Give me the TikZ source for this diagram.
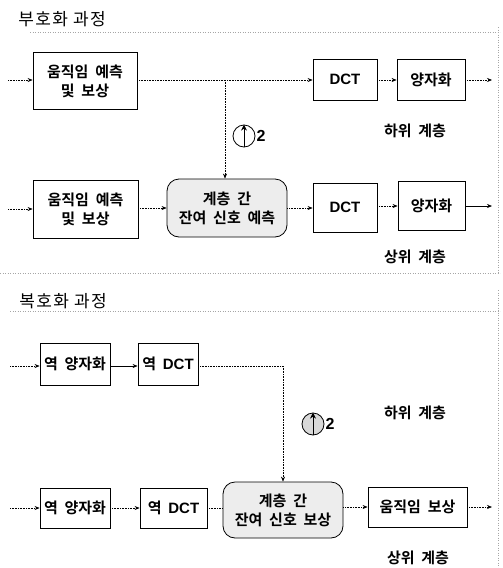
\documentclass[tikz,border=0pt]{standalone}
\usepackage{fontspec}
\newfontfamily\kr{Noto Sans CJK KR}
\newfontfamily\krb{Noto Sans CJK KR Bold}
\newfontfamily\lat{Liberation Sans}
\newcommand\dct{{\lat\bfseries DCT}}
\newcommand\widesp{\spaceskip=0.45em\relax}
\usetikzlibrary{arrows.meta}
\begin{document}
\begin{tikzpicture}[x=1pt,y=-1pt,
  blk/.style={draw, line width=0.8pt, inner sep=0pt, align=center, font=\krb\fontsize{15}{19}\selectfont\widesp},
  rblk/.style={blk, rounded corners=12pt, fill=gray!14},
  lbl/.style={font=\krb\fontsize{15}{17}\selectfont\widesp},
  ttl/.style={font=\kr\fontsize{17}{19}\selectfont\addfontfeature{LetterSpace=8}},
  con/.style={line width=0.6pt, densely dotted, -{Stealth[length=5pt,width=4pt]}},
  cons/.style={line width=0.6pt, -{Stealth[length=5pt,width=4pt]}},
  conp/.style={line width=0.6pt, densely dotted},
  sep/.style={gray!70, line width=0.5pt, dotted},
  up/.style={draw, circle, line width=0.8pt, minimum size=22pt, inner sep=0pt},
  uparr/.style={-{Stealth[length=6pt,width=6pt]}, line width=0.8pt}
]
\useasboundingbox (0,0) rectangle (503,568);

% section frames
\node[ttl] (t1) at (62,19) {부호화 과정};
\node[ttl] (t2) at (63,301) {복호화 과정};
\draw[sep] (30,32) -- (500,32);
\draw[sep] (0,273) -- (500,273);
\draw[sep] (10,311) -- (500,311);
\draw[sep] (498,27) -- (498,273);
\draw[sep] (498,290) -- (498,568);

% ---------------- encoder ----------------
\node[blk, minimum width=104pt, minimum height=57pt] (m1) at (85,81) {움직임 예측\\및 보상};
\node[blk, minimum width=64pt, minimum height=41pt] (dct1) at (345,79.5) {\dct};
\node[blk, minimum width=68pt, minimum height=41pt] (q1) at (431,79.5) {양자화};

\node[blk, minimum width=105pt, minimum height=58pt] (m2) at (85.5,209) {움직임 예측\\및 보상};
\node[rblk, minimum width=120pt, minimum height=58pt] (r1) at (227,208) {계층 간\\잔여 신호 예측};
\node[blk, minimum width=64pt, minimum height=49pt] (dct2) at (345,207.5) {\dct};
\node[blk, minimum width=67pt, minimum height=49pt] (q2) at (431.5,205.5) {양자화};

\coordinate (in1) at (8,80);
\coordinate (out1) at (492,80);
\coordinate (j1) at (225,80);
\coordinate (in2) at (8,209);
\coordinate (out2) at (492,206);

\draw[con] (in1) -- (in1 -| m1.west);
\draw[con] (m1.east |- j1) -- (j1) -- (j1 -| dct1.west);
\draw[con] (dct1.east |- out1) -- (out1 -| q1.west);
\draw[con] (q1.east |- out1) -- (out1);
\draw[con] (j1) -- (j1 |- r1.north);

\draw[con] (in2) -- (in2 -| m2.west);
\draw[con] (m2.east |- 0,208) -- (r1.west);
\draw[con] (r1.east) -- (r1.east -| dct2.west);
\draw[con] (dct2.east |- out2) -- (out2 -| q2.west);
\draw[cons] (q2.east |- out2) -- (out2);

\node[up] (u1) at (244,136) {};
\draw[uparr] (u1.south) -- (u1.north);
\node[lbl, anchor=west, inner sep=0pt] (n1) at ([xshift=1pt]u1.east) {\lat\bfseries\fontsize{16}{18}\selectfont 2};

\node[lbl] (l1) at (415,131) {하위 계층};
\node[lbl] (l2) at (415,257) {상위 계층};

% ---------------- decoder ----------------
\node[blk, minimum width=70pt, minimum height=42pt] (iq1) at (75,364) {역 양자화};
\node[blk, minimum width=60pt, minimum height=42pt] (id1) at (168,364) {역 \dct};

\node[blk, minimum width=70pt, minimum height=40pt] (iq2) at (75,508) {역 양자화};
\node[blk, minimum width=67pt, minimum height=40pt] (id2) at (173.5,508) {역 \dct};
\node[rblk, minimum width=120pt, minimum height=56pt] (r2) at (283,510) {계층 간\\잔여 신호 보상};
\node[blk, minimum width=99pt, minimum height=40pt] (mc) at (417.5,507) {움직임 보상};

\coordinate (in3) at (10,366);
\coordinate (k1) at (283,366);
\coordinate (in4) at (10,508);
\coordinate (out4) at (492,507);

\draw[con] (in3) -- (in3 -| iq1.west);
\draw[cons] (iq1.east |- in3) -- (in3 -| id1.west);
\draw[conp] (id1.east |- k1) -- (k1);
\draw[con] (k1) -- (r2.north);

\draw[con] (in4) -- (in4 -| iq2.west);
\draw[con] (iq2.east |- in4) -- (in4 -| id2.west);
\draw[conp] (id2.east |- in4) -- (in4 -| r2.west);
\draw[con] (r2.east |- out4) -- (out4 -| mc.west);
\draw[con] (mc.east |- out4) -- (out4);

\node[up, fill=gray!30] (u2) at (313,424) {};
\draw[uparr] (u2.south) -- (u2.north);
\node[lbl, anchor=west, inner sep=0pt] (n2) at ([xshift=1pt]u2.east) {\lat\bfseries\fontsize{16}{18}\selectfont 2};

\node[lbl] (l3) at (415,413) {하위 계층};
\node[lbl] (l4) at (418,558) {상위 계층};
\end{tikzpicture}
\end{document}
